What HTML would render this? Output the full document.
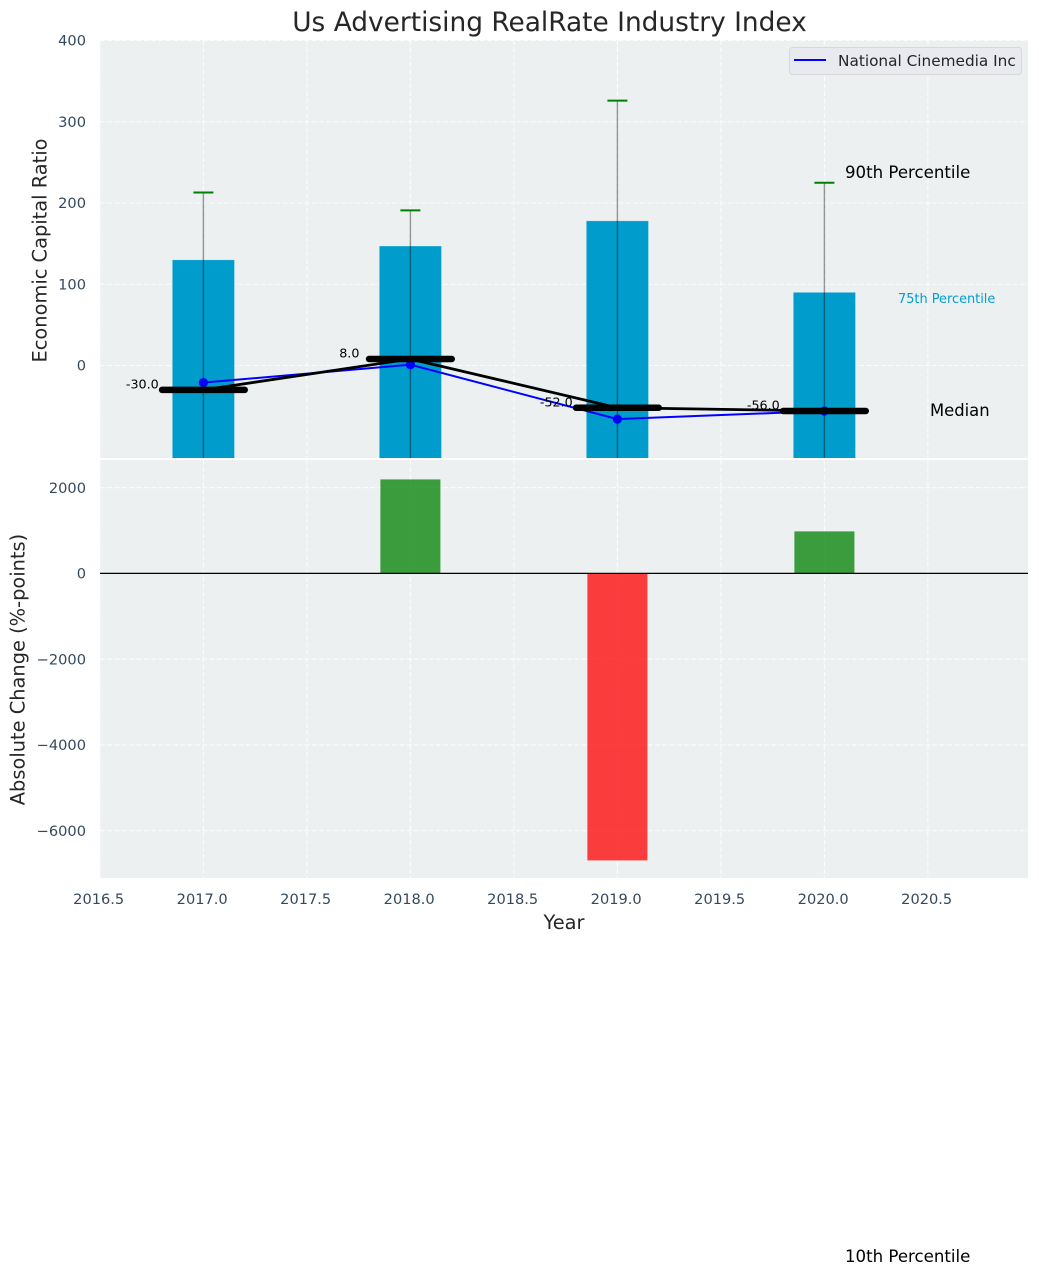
<!DOCTYPE html>
<html lang="en">
<head>
<meta charset="utf-8">
<title>Us Advertising RealRate Industry Index</title>
<style>
html,body{margin:0;padding:0;background:#fff;}
svg{display:block;font-family:"DejaVu Sans","Liberation Sans",sans-serif;}
</style>
</head>
<body>
<svg id="chart" xmlns="http://www.w3.org/2000/svg" width="1039" height="1275" viewBox="0 0 1039 1275">
  <defs>
    <clipPath id="clip-top"><rect x="100" y="40" width="928" height="418"/></clipPath>
    <clipPath id="clip-bottom"><rect x="100" y="460" width="928" height="418"/></clipPath>
  </defs>
  <rect x="0" y="0" width="1039" height="1275" fill="#ffffff"/>
  <rect x="100" y="40" width="928" height="418" fill="#ecf0f1"/>
  <rect x="100" y="460" width="928" height="418" fill="#ecf0f1"/>
  <g id="top-grid"></g>
  <g id="bottom-grid"></g>
  <g id="top-marks" clip-path="url(#clip-top)"></g>
  <g id="bottom-marks" clip-path="url(#clip-bottom)"></g>
  <g id="ticks" font-size="14.6" fill="#34495e"></g>
  <g id="median-labels" font-size="12.7" fill="#000000" text-anchor="middle"></g>

  <text x="549.5" y="31" font-size="26.4" fill="#262626" text-anchor="middle">Us Advertising RealRate Industry Index</text>
  <text transform="translate(46.5,250.5) rotate(-90)" font-size="19.4" fill="#262626" text-anchor="middle">Economic Capital Ratio</text>
  <text transform="translate(24.5,669.5) rotate(-90)" font-size="19.4" fill="#262626" text-anchor="middle">Absolute Change (%-points)</text>
  <text x="564" y="929" font-size="19.4" fill="#262626" text-anchor="middle">Year</text>

  <text x="845" y="178" font-size="16.6" fill="#000000">90th Percentile</text>
  <text x="898" y="303" font-size="12.9" fill="#00a0d0">75th Percentile</text>
  <text x="930" y="416" font-size="16.4" fill="#000000">Median</text>
  <text x="845" y="1262" font-size="16.6" fill="#000000">10th Percentile</text>

  <g>
    <rect x="789.5" y="47.5" width="232" height="27" rx="3" fill="#e9eaf0" stroke="#d6d8da" stroke-width="1"/>
    <line x1="794" y1="60" x2="826" y2="60" stroke="#0000ff" stroke-width="2"/>
    <text x="838" y="66" font-size="15.3" fill="#262626">National Cinemedia Inc</text>
  </g>
</svg>
<script>
const years = [2017, 2018, 2019, 2020];
const p90 = [213, 191, 326, 225];
const p75 = [130, 147, 178, 90];
const p25 = [-200, -200, -200, -200];
const p10 = [-300, -300, -300, -300];
const company = [-21, 1, -66, -56];
const medians = [-30, 8, -52, -56];
const absoluteChange = [0, 2192, -6694, 980];
const xTicks = [2016.5, 2017, 2017.5, 2018, 2018.5, 2019, 2019.5, 2020, 2020.5];
const topTicks = [0, 100, 200, 300, 400];
const bottomTicks = [-6000, -4000, -2000, 0, 2000];

const xScale = v => 203.4 + (v - 2017) * 207;
const topY = v => 365.5 - v * 0.8125;
const bottomY = v => 573.4 - v * 0.042875;
const NS = 'http://www.w3.org/2000/svg';

function make(tag, parent, attrs) {
  const el = document.createElementNS(NS, tag);
  for (const k in attrs) el.setAttribute(k, attrs[k]);
  parent.appendChild(el);
  return el;
}

const topGrid = document.getElementById('top-grid');
const bottomGrid = document.getElementById('bottom-grid');
const topMarks = document.getElementById('top-marks');
const bottomMarks = document.getElementById('bottom-marks');
const ticksG = document.getElementById('ticks');
const medianLabels = document.getElementById('median-labels');
const gridStyle = {stroke: '#ffffff', 'stroke-width': 1.1, 'stroke-dasharray': '5 2.3', opacity: 0.85};

xTicks.forEach(t => {
  const x = xScale(t);
  const a = make('line', topGrid, Object.assign({x1: x, x2: x, y1: 40, y2: 458}, gridStyle));
  
  
  const b = make('line', bottomGrid, Object.assign({x1: x, x2: x, y1: 460, y2: 878}, gridStyle));
  
  
  const label = make('text', ticksG, {x: x - 1.2, y: 904, 'text-anchor': 'middle'});
  label.textContent = t.toFixed(1);
  
  
});

topTicks.forEach(t => {
  const y = topY(t);
  const a = make('line', topGrid, Object.assign({x1: 100, x2: 1028, y1: y, y2: y}, gridStyle));
  
  
  const label = make('text', ticksG, {x: 86, y: y + 5.2, 'text-anchor': 'end'});
  label.textContent = String(t);
  
  
});

bottomTicks.forEach(t => {
  const y = bottomY(t);
  const a = make('line', bottomGrid, Object.assign({x1: 100, x2: 1028, y1: y, y2: y}, gridStyle));
  
  
  const label = make('text', ticksG, {x: 86, y: y + 5.2, 'text-anchor': 'end'});
  label.textContent = String(t).replace('-', '\u2212');
  
  
});

years.forEach((yr, i) => {
  const x = xScale(yr);
  const barW = 0.3 * 207;
  const bar = make('rect', topMarks, {x: x - barW / 2, y: topY(p75[i]), width: barW, height: topY(p25[i]) - topY(p75[i]), fill: '#009ccc', stroke: '#ffffff', 'stroke-opacity': 0.25, 'stroke-width': 0.8});
  
  
  const whisker = make('line', topMarks, {x1: x, x2: x, y1: topY(p90[i]), y2: topY(p10[i]), stroke: '#000000', 'stroke-opacity': 0.4, 'stroke-width': 1.4});
  
  
  const cap = make('line', topMarks, {x1: x - 10, x2: x + 10, y1: topY(p90[i]), y2: topY(p90[i]), stroke: '#008000', 'stroke-width': 2});
  
  
});

const companyLine = make('polyline', topMarks, {points: years.map((yr, i) => xScale(yr) + ',' + topY(company[i])).join(' '), fill: 'none', stroke: '#0000ff', 'stroke-width': 2});


years.forEach((yr, i) => {
  const dot = make('circle', topMarks, {cx: xScale(yr), cy: topY(company[i]), r: 4.6, fill: '#0000ff'});
  
  
});

const medianLine = make('polyline', topMarks, {points: years.map((yr, i) => xScale(yr) + ',' + topY(medians[i])).join(' '), fill: 'none', stroke: '#000000', 'stroke-width': 2.8});


years.forEach((yr, i) => {
  const x = xScale(yr);
  const y = topY(medians[i]);
  const m = make('line', topMarks, {x1: x - 0.2 * 207, x2: x + 0.2 * 207, y1: y, y2: y, stroke: '#000000', 'stroke-width': 6.4, 'stroke-linecap': 'round'});
  
  
  const t = make('text', medianLabels, {x: x - 0.295 * 207, y: y - 1.3});
  t.textContent = medians[i].toFixed(1);
  
  
});

years.forEach((yr, i) => {
  if (absoluteChange[i] === 0) return;
  const x = xScale(yr);
  const barW = 0.29 * 207;
  const v = absoluteChange[i];
  const y0 = Math.min(bottomY(v), bottomY(0));
  const h = Math.abs(bottomY(v) - bottomY(0));
  const b = make('rect', bottomMarks, {x: x - barW / 2, y: y0, width: barW, height: h, fill: v > 0 ? '#008000' : '#ff0000', 'fill-opacity': 0.75});
  
  
});
const zeroLine = make('line', bottomMarks, {x1: 100, x2: 1028, y1: bottomY(0), y2: bottomY(0), stroke: '#000000', 'stroke-width': 1.3});


</script>
</body>
</html>
